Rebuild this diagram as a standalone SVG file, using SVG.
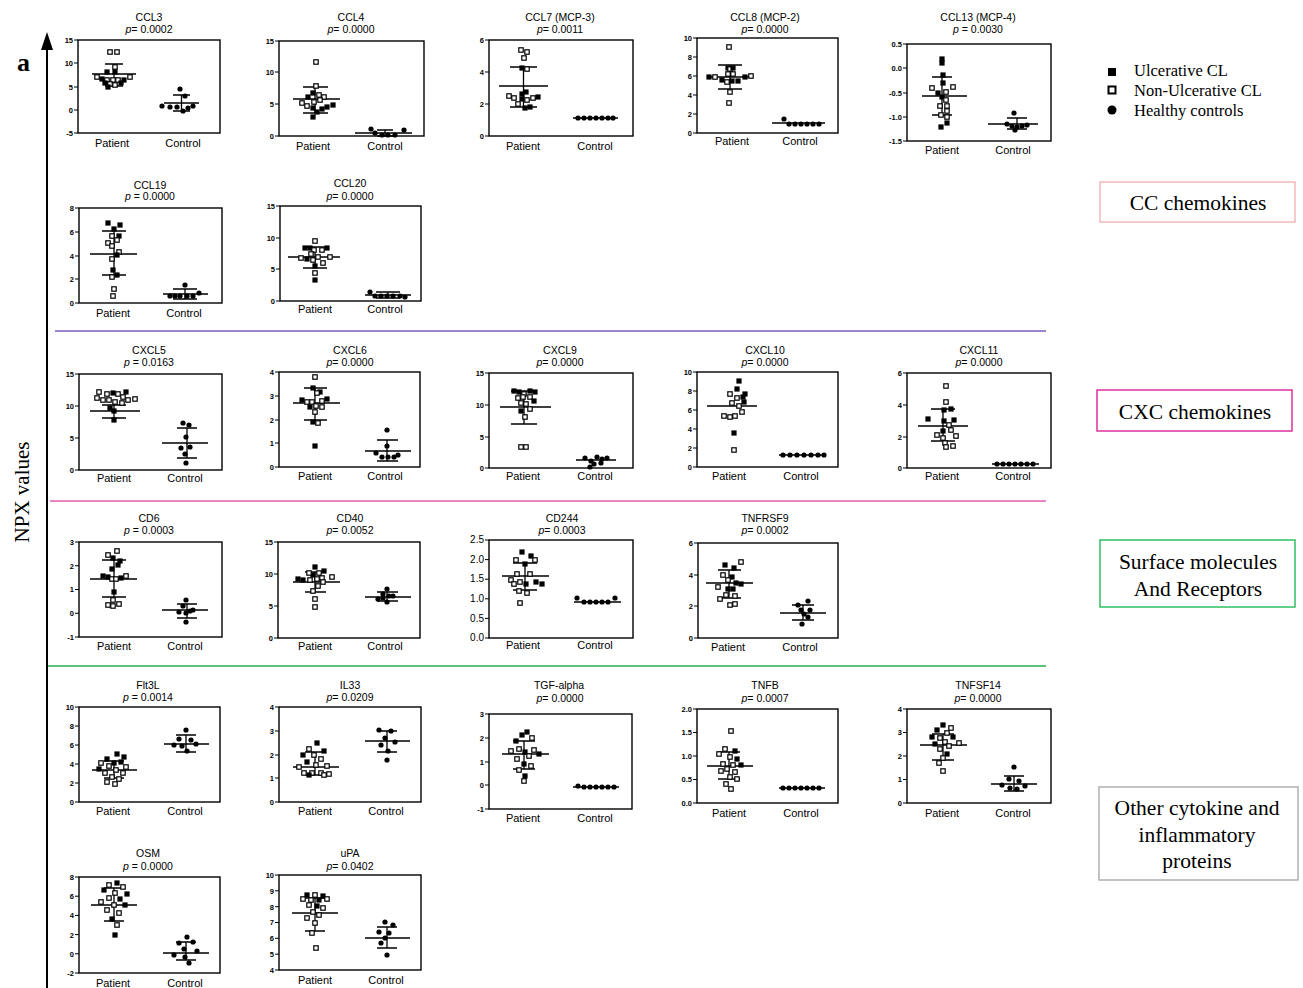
<svg xmlns="http://www.w3.org/2000/svg" xmlns:xlink="http://www.w3.org/1999/xlink" width="1303" height="988" viewBox="0 0 1303 988">
<style>
.bx{fill:none;stroke:#000;stroke-width:1.4}
.eb{fill:none;stroke:#000;stroke-width:1.3}
.tk{fill:none;stroke:#000;stroke-width:1}
.tl{font-family:"Liberation Sans",Arial,sans-serif;font-size:7.5px;font-weight:bold;text-anchor:end}
.tt{font-family:"Liberation Sans",Arial,sans-serif;font-size:10.5px;text-anchor:middle}
.xl{font-family:"Liberation Sans",Arial,sans-serif;font-size:11px;text-anchor:middle}
.sf{font-family:"Liberation Serif","Times New Roman",serif;fill:#000}
.it{font-style:italic}
</style>
<defs>
<rect id="s" x="-2.6" y="-2.6" width="5.2" height="5.2" fill="#000"/>
<rect id="o" x="-2.2" y="-2.2" width="4.4" height="4.4" fill="#fff" stroke="#000" stroke-width="1.2"/>
<circle id="c" r="2.6" fill="#000"/>
</defs>
<rect width="1303" height="988" fill="#fff"/>

<g id="axis">
<line x1="47" y1="988" x2="47" y2="46" stroke="#000" stroke-width="2"/>
<polygon points="41,50 47,32 53,50" fill="#000"/>
<text class="sf" x="17" y="71" font-size="26" font-weight="bold">a</text>
<text class="sf" transform="translate(29,492) rotate(-90)" font-size="21" text-anchor="middle">NPX values</text>
</g>

<g id="separators">
<line x1="55" y1="331" x2="1046" y2="331" stroke="#7a5cb8" stroke-width="1.6"/>
<line x1="50" y1="501" x2="1046" y2="501" stroke="#e05cb0" stroke-width="1.6"/>
<line x1="48" y1="666" x2="1046" y2="666" stroke="#22b04a" stroke-width="1.6"/>
</g>

<g id="legend">
<rect x="1108" y="68" width="8" height="8" fill="#000"/>
<rect x="1108.5" y="86.5" width="7" height="7" fill="#fff" stroke="#000" stroke-width="2"/>
<circle cx="1112" cy="110" r="4.5" fill="#000"/>
<text class="sf" x="1134" y="76" font-size="16.5">Ulcerative CL</text>
<text class="sf" x="1134" y="96" font-size="16.5">Non-Ulcerative CL</text>
<text class="sf" x="1134" y="116" font-size="16.5">Healthy controls</text>
</g>

<g id="cat-cc"><rect x="1100" y="182" width="195" height="40" fill="none" stroke="#f2b8b8" stroke-width="1.5"/><text class="sf" x="1198" y="210" font-size="21.5" text-anchor="middle">CC chemokines</text></g>
<g id="cat-cxc"><rect x="1097" y="390" width="195" height="41" fill="none" stroke="#e0309a" stroke-width="1.5"/><text class="sf" x="1195" y="419" font-size="21.5" text-anchor="middle">CXC chemokines</text></g>
<g id="cat-surface"><rect x="1100" y="540" width="195" height="67" fill="none" stroke="#2ec060" stroke-width="1.5"/><text class="sf" x="1198" y="569" font-size="21.5" text-anchor="middle">Surface molecules</text><text class="sf" x="1198" y="596" font-size="21.5" text-anchor="middle">And Receptors</text></g>
<g id="cat-other"><rect x="1099" y="787" width="199" height="93" fill="none" stroke="#b0b0b0" stroke-width="1.5"/><text class="sf" x="1197" y="815" font-size="21.5" text-anchor="middle">Other cytokine and</text><text class="sf" x="1197" y="842" font-size="21.5" text-anchor="middle">inflammatory</text><text class="sf" x="1197" y="868" font-size="21.5" text-anchor="middle">proteins</text></g>

<!-- CCL3 -->
<g id="p-ccl3" transform="translate(78,40)">
<text class="tt" x="71" y="-19">CCL3</text><text class="tt" x="71" y="-7"><tspan class="it">p</tspan>= 0.0002</text>
<rect class="bx" width="142" height="93"/>
<path class="tk" d="M-4 0H0M-4 23H0M-4 47H0M-4 70H0M-4 93H0"/>
<text class="tl" x="-5" y="3">15</text><text class="tl" x="-5" y="26">10</text><text class="tl" x="-5" y="50">5</text><text class="tl" x="-5" y="73">0</text><text class="tl" x="-5" y="96">-5</text>
<text class="xl" x="34" y="107">Patient</text><text class="xl" x="105" y="107">Control</text>
<path class="eb" d="M14 34H58M27 24H45M27 46H45M36 24V46M86 63H121M95 55H112M95 71H112M103.5 55V71"/>
<use href="#o" x="32" y="12"/><use href="#o" x="39" y="12"/><use href="#o" x="37" y="27"/><use href="#s" x="29" y="32"/><use href="#s" x="37" y="32"/><use href="#o" x="19" y="37"/><use href="#s" x="24" y="39"/><use href="#o" x="29" y="40"/><use href="#o" x="35" y="40"/><use href="#o" x="40" y="40"/><use href="#s" x="46" y="40"/><use href="#o" x="52" y="37"/><use href="#o" x="32" y="44"/><use href="#o" x="37" y="45"/><use href="#s" x="43" y="43"/><use href="#s" x="27" y="43"/><use href="#s" x="30" y="47"/>
<use href="#c" x="102" y="49"/><use href="#c" x="107" y="56"/><use href="#c" x="84" y="66"/><use href="#c" x="99" y="67"/><use href="#c" x="110" y="68"/><use href="#c" x="115" y="66"/><use href="#c" x="105" y="71"/><use href="#c" x="92" y="67"/>
</g>

<!-- CCL4 -->
<g id="p-ccl4" transform="translate(279,41)">
<text class="tt" x="72" y="-20">CCL4</text><text class="tt" x="72" y="-8"><tspan class="it">p</tspan>= 0.0000</text>
<rect class="bx" width="145" height="95"/>
<path class="tk" d="M-4 0H0M-4 31H0M-4 63H0M-4 95H0"/>
<text class="tl" x="-5" y="3">15</text><text class="tl" x="-5" y="34">10</text><text class="tl" x="-5" y="66">5</text><text class="tl" x="-5" y="98">0</text>
<text class="xl" x="34" y="109">Patient</text><text class="xl" x="106" y="109">Control</text>
<path class="eb" d="M14 58H61M24 46H49M24 72H49M36 46V72M76 92H133M98 89H114M98 95H114M106 89V95"/>
<use href="#o" x="37" y="21"/><use href="#o" x="37" y="45"/><use href="#o" x="40" y="54"/><use href="#o" x="45" y="56"/><use href="#s" x="29" y="56"/><use href="#s" x="34" y="52"/><use href="#o" x="23" y="62"/><use href="#o" x="28" y="65"/><use href="#o" x="35" y="61"/><use href="#o" x="41" y="59"/><use href="#s" x="34" y="67"/><use href="#s" x="38" y="71"/><use href="#s" x="43" y="68"/><use href="#s" x="48" y="66"/><use href="#s" x="54" y="64"/><use href="#s" x="34" y="76"/>
<use href="#c" x="92" y="88"/><use href="#c" x="96" y="92"/><use href="#c" x="103" y="94"/><use href="#c" x="109" y="94"/><use href="#c" x="116" y="94"/><use href="#c" x="125" y="89"/>
</g>

<!-- CCL7 -->
<g id="p-ccl7" transform="translate(489,40)">
<text class="tt" x="71" y="-19">CCL7 (MCP-3)</text><text class="tt" x="71" y="-7"><tspan class="it">p</tspan>= 0.0011</text>
<rect class="bx" width="144" height="96"/>
<path class="tk" d="M-4 0H0M-4 32H0M-4 64H0M-4 96H0"/>
<text class="tl" x="-5" y="3">6</text><text class="tl" x="-5" y="35">4</text><text class="tl" x="-5" y="67">2</text><text class="tl" x="-5" y="99">0</text>
<text class="xl" x="34" y="110">Patient</text><text class="xl" x="106" y="110">Control</text>
<path class="eb" d="M10 46H59M21 27H48M21 67H48M34.5 27V67M84 78H129"/>
<use href="#o" x="32" y="10"/><use href="#o" x="38" y="12"/><use href="#o" x="35" y="18"/><use href="#s" x="33" y="28"/><use href="#o" x="38" y="29"/><use href="#s" x="37" y="52"/><use href="#s" x="33" y="54"/><use href="#o" x="20" y="56"/><use href="#o" x="25" y="58"/><use href="#s" x="33" y="59"/><use href="#o" x="38" y="60"/><use href="#o" x="44" y="58"/><use href="#s" x="49" y="57"/><use href="#o" x="29" y="64"/><use href="#s" x="36" y="68"/><use href="#s" x="41" y="67"/>
<use href="#c" x="89" y="78"/><use href="#c" x="95" y="78"/><use href="#c" x="101" y="78"/><use href="#c" x="107" y="78"/><use href="#c" x="113" y="78"/><use href="#c" x="119" y="78"/><use href="#c" x="124" y="78"/>
</g>

<!-- CCL8 -->
<g id="p-ccl8" transform="translate(697,38)">
<text class="tt" x="68" y="-17">CCL8 (MCP-2)</text><text class="tt" x="68" y="-5"><tspan class="it">p</tspan>= 0.0000</text>
<rect class="bx" width="141" height="95"/>
<path class="tk" d="M-4 0H0M-4 19H0M-4 38H0M-4 57H0M-4 76H0M-4 95H0"/>
<text class="tl" x="-5" y="3">10</text><text class="tl" x="-5" y="22">8</text><text class="tl" x="-5" y="41">6</text><text class="tl" x="-5" y="60">4</text><text class="tl" x="-5" y="79">2</text><text class="tl" x="-5" y="98">0</text>
<text class="xl" x="35" y="107">Patient</text><text class="xl" x="103" y="107">Control</text>
<path class="eb" d="M10 39H56M21 27H45M21 51H45M33 27V51M75 85H128"/>
<use href="#o" x="32" y="9"/><use href="#s" x="31" y="30"/><use href="#o" x="33" y="31"/><use href="#s" x="36" y="30"/><use href="#o" x="31" y="36"/><use href="#o" x="36" y="36"/><use href="#s" x="12" y="39"/><use href="#o" x="18" y="39"/><use href="#s" x="48" y="39"/><use href="#o" x="54" y="38"/><use href="#s" x="25" y="42"/><use href="#o" x="30" y="44"/><use href="#s" x="35" y="43"/><use href="#s" x="41" y="43"/><use href="#o" x="33" y="54"/><use href="#o" x="32" y="65"/>
<use href="#c" x="87" y="81"/><use href="#c" x="92" y="86"/><use href="#c" x="98" y="86"/><use href="#c" x="104" y="86"/><use href="#c" x="110" y="86"/><use href="#c" x="116" y="86"/><use href="#c" x="122" y="86"/>
</g>

<!-- CCL13 -->
<g id="p-ccl13" transform="translate(907,44)">
<text class="tt" x="71" y="-23">CCL13 (MCP-4)</text><text class="tt" x="71" y="-11"><tspan class="it">p</tspan> = 0.0030</text>
<rect class="bx" width="144" height="97"/>
<path class="tk" d="M-4 0H0M-4 24H0M-4 49H0M-4 73H0M-4 97H0"/>
<text class="tl" x="-5" y="3">0.5</text><text class="tl" x="-5" y="27">0.0</text><text class="tl" x="-5" y="52">-0.5</text><text class="tl" x="-5" y="76">-1.0</text><text class="tl" x="-5" y="100">-1.5</text>
<text class="xl" x="35" y="110">Patient</text><text class="xl" x="106" y="110">Control</text>
<path class="eb" d="M15 52H60M25 33H45M25 71H45M35 33V71M81 80H131M100 74H120M100 85H120M110 74V85"/>
<use href="#s" x="35" y="15"/><use href="#s" x="35" y="19"/><use href="#s" x="36" y="31"/><use href="#s" x="36" y="39"/><use href="#o" x="25" y="44"/><use href="#s" x="31" y="49"/><use href="#o" x="39" y="48"/><use href="#o" x="46" y="43"/><use href="#s" x="35" y="53"/><use href="#o" x="39" y="56"/><use href="#o" x="33" y="62"/><use href="#o" x="40" y="62"/><use href="#o" x="40" y="67"/><use href="#o" x="34" y="71"/><use href="#o" x="40" y="73"/><use href="#s" x="40" y="79"/><use href="#s" x="34" y="83"/>
<use href="#c" x="107" y="69"/><use href="#c" x="100" y="80"/><use href="#c" x="105" y="82"/><use href="#c" x="110" y="83"/><use href="#c" x="115" y="82"/><use href="#c" x="120" y="81"/><use href="#c" x="108" y="86"/>
</g>

<!-- CCL19 -->
<g id="p-ccl19" transform="translate(79,208)">
<text class="tt" x="71" y="-19">CCL19</text><text class="tt" x="71" y="-8"><tspan class="it">p</tspan> = 0.0000</text>
<rect class="bx" width="143" height="95"/>
<path class="tk" d="M-4 0H0M-4 24H0M-4 48H0M-4 71H0M-4 95H0"/>
<text class="tl" x="-5" y="3">8</text><text class="tl" x="-5" y="27">6</text><text class="tl" x="-5" y="51">4</text><text class="tl" x="-5" y="74">2</text><text class="tl" x="-5" y="98">0</text>
<text class="xl" x="34" y="109">Patient</text><text class="xl" x="105" y="109">Control</text>
<path class="eb" d="M11 46H58M23 23H47M23 67H47M35 23V67M84 86H129M94 81H118M94 91H118M106 81V91"/>
<use href="#s" x="29" y="15"/><use href="#s" x="35" y="21"/><use href="#s" x="41" y="17"/><use href="#o" x="33" y="28"/><use href="#s" x="40" y="28"/><use href="#o" x="38" y="32"/><use href="#o" x="29" y="35"/><use href="#o" x="33" y="38"/><use href="#o" x="40" y="44"/><use href="#s" x="38" y="47"/><use href="#o" x="33" y="51"/><use href="#s" x="34" y="62"/><use href="#s" x="38" y="67"/><use href="#o" x="33" y="69"/><use href="#o" x="35" y="81"/><use href="#o" x="34" y="88"/>
<use href="#c" x="106" y="77"/><use href="#c" x="91" y="88"/><use href="#c" x="96" y="88"/><use href="#c" x="101" y="88"/><use href="#c" x="108" y="88"/><use href="#c" x="114" y="88"/><use href="#c" x="120" y="85"/>
</g>

<!-- CCL20 -->
<g id="p-ccl20" transform="translate(280,206)">
<text class="tt" x="70" y="-19">CCL20</text><text class="tt" x="70" y="-6"><tspan class="it">p</tspan>= 0.0000</text>
<rect class="bx" width="141" height="95"/>
<path class="tk" d="M-4 0H0M-4 32H0M-4 63H0M-4 95H0"/>
<text class="tl" x="-5" y="3">15</text><text class="tl" x="-5" y="35">10</text><text class="tl" x="-5" y="66">5</text><text class="tl" x="-5" y="98">0</text>
<text class="xl" x="35" y="107">Patient</text><text class="xl" x="105" y="107">Control</text>
<path class="eb" d="M8 51H60M23 41H47M23 62H47M35 41V62M85 89H131M96 86H120M96 92H120M108 86V92"/>
<use href="#o" x="35" y="35"/><use href="#s" x="25" y="42"/><use href="#s" x="30" y="42"/><use href="#o" x="34" y="44"/><use href="#o" x="42" y="44"/><use href="#s" x="47" y="42"/><use href="#o" x="31" y="48"/><use href="#o" x="21" y="52"/><use href="#s" x="27" y="53"/><use href="#o" x="33" y="54"/><use href="#o" x="38" y="51"/><use href="#o" x="43" y="57"/><use href="#o" x="50" y="51"/><use href="#s" x="35" y="60"/><use href="#o" x="35" y="67"/><use href="#s" x="35" y="74"/>
<use href="#c" x="90" y="86"/><use href="#c" x="95" y="90"/><use href="#c" x="101" y="90"/><use href="#c" x="107" y="90"/><use href="#c" x="113" y="90"/><use href="#c" x="120" y="90"/><use href="#c" x="125" y="91"/>
</g>

<!-- CXCL5 -->
<g id="p-cxcl5" transform="translate(79,374)">
<text class="tt" x="70" y="-20">CXCL5</text><text class="tt" x="70" y="-8"><tspan class="it">p</tspan> = 0.0163</text>
<rect class="bx" width="143" height="96"/>
<path class="tk" d="M-4 0H0M-4 32H0M-4 64H0M-4 96H0"/>
<text class="tl" x="-5" y="3">15</text><text class="tl" x="-5" y="35">10</text><text class="tl" x="-5" y="67">5</text><text class="tl" x="-5" y="99">0</text>
<text class="xl" x="35" y="108">Patient</text><text class="xl" x="106" y="108">Control</text>
<path class="eb" d="M11 37H61M23 31H47M23 44H47M35 31V44M83 69H129M98 54H118M98 84H118M108 54V84"/>
<use href="#o" x="20" y="18"/><use href="#o" x="28" y="20"/><use href="#s" x="34" y="19"/><use href="#o" x="39" y="20"/><use href="#o" x="44" y="23"/><use href="#s" x="47" y="18"/><use href="#o" x="18" y="24"/><use href="#o" x="24" y="26"/><use href="#o" x="30" y="26"/><use href="#o" x="36" y="28"/><use href="#o" x="43" y="29"/><use href="#o" x="49" y="26"/><use href="#o" x="56" y="25"/><use href="#s" x="31" y="34"/><use href="#s" x="35" y="37"/><use href="#s" x="35" y="46"/>
<use href="#c" x="104" y="49"/><use href="#c" x="110" y="51"/><use href="#c" x="107" y="63"/><use href="#c" x="111" y="73"/><use href="#c" x="102" y="74"/><use href="#c" x="106" y="80"/><use href="#c" x="107" y="89"/>
</g>

<!-- CXCL6 -->
<g id="p-cxcl6" transform="translate(279,372)">
<text class="tt" x="71" y="-18">CXCL6</text><text class="tt" x="71" y="-6"><tspan class="it">p</tspan>= 0.0000</text>
<rect class="bx" width="141" height="95"/>
<path class="tk" d="M-4 0H0M-4 24H0M-4 48H0M-4 71H0M-4 95H0"/>
<text class="tl" x="-5" y="3">4</text><text class="tl" x="-5" y="27">3</text><text class="tl" x="-5" y="51">2</text><text class="tl" x="-5" y="74">1</text><text class="tl" x="-5" y="98">0</text>
<text class="xl" x="36" y="108">Patient</text><text class="xl" x="106" y="108">Control</text>
<path class="eb" d="M14 31H61M25 16H48M25 48H48M36 16V48M86 79H132M98 68H119M98 89H119M108 68V89"/>
<use href="#o" x="36" y="5"/><use href="#s" x="34" y="16"/><use href="#s" x="41" y="20"/><use href="#o" x="38" y="21"/><use href="#s" x="23" y="28"/><use href="#o" x="28" y="30"/><use href="#o" x="33" y="30"/><use href="#o" x="43" y="29"/><use href="#s" x="48" y="27"/><use href="#s" x="31" y="35"/><use href="#o" x="37" y="34"/><use href="#o" x="43" y="35"/><use href="#o" x="36" y="40"/><use href="#s" x="34" y="50"/><use href="#o" x="39" y="51"/><use href="#s" x="36" y="74"/>
<use href="#c" x="108" y="58"/><use href="#c" x="108" y="74"/><use href="#c" x="97" y="81"/><use href="#c" x="103" y="85"/><use href="#c" x="109" y="85"/><use href="#c" x="115" y="85"/><use href="#c" x="119" y="83"/>
</g>

<!-- CXCL9 -->
<g id="p-cxcl9" transform="translate(489,373)">
<text class="tt" x="71" y="-19">CXCL9</text><text class="tt" x="71" y="-7"><tspan class="it">p</tspan>= 0.0000</text>
<rect class="bx" width="144" height="95"/>
<path class="tk" d="M-4 0H0M-4 32H0M-4 64H0M-4 95H0"/>
<text class="tl" x="-5" y="3">15</text><text class="tl" x="-5" y="35">10</text><text class="tl" x="-5" y="67">5</text><text class="tl" x="-5" y="98">0</text>
<text class="xl" x="34" y="107">Patient</text><text class="xl" x="106" y="107">Control</text>
<path class="eb" d="M11 34H62M22 18H48M22 51H48M35 18V51M87 87H127"/>
<use href="#s" x="25" y="18"/><use href="#s" x="30" y="19"/><use href="#o" x="35" y="21"/><use href="#s" x="41" y="18"/><use href="#s" x="46" y="19"/><use href="#o" x="29" y="25"/><use href="#o" x="34" y="24"/><use href="#o" x="41" y="24"/><use href="#s" x="45" y="28"/><use href="#o" x="32" y="30"/><use href="#o" x="37" y="31"/><use href="#s" x="32" y="38"/><use href="#o" x="41" y="36"/><use href="#o" x="36" y="44"/><use href="#o" x="32" y="74"/><use href="#o" x="37" y="74"/>
<use href="#c" x="96" y="85"/><use href="#c" x="102" y="88"/><use href="#c" x="108" y="84"/><use href="#c" x="113" y="86"/><use href="#c" x="118" y="85"/><use href="#c" x="105" y="91"/><use href="#c" x="112" y="90"/><use href="#c" x="101" y="94"/>
</g>

<!-- CXCL10 -->
<g id="p-cxcl10" transform="translate(697,372)">
<text class="tt" x="68" y="-18">CXCL10</text><text class="tt" x="68" y="-6"><tspan class="it">p</tspan>= 0.0000</text>
<rect class="bx" width="141" height="95"/>
<path class="tk" d="M-4 0H0M-4 19H0M-4 38H0M-4 57H0M-4 76H0M-4 95H0"/>
<text class="tl" x="-5" y="3">10</text><text class="tl" x="-5" y="22">8</text><text class="tl" x="-5" y="41">6</text><text class="tl" x="-5" y="60">4</text><text class="tl" x="-5" y="79">2</text><text class="tl" x="-5" y="98">0</text>
<text class="xl" x="32" y="108">Patient</text><text class="xl" x="104" y="108">Control</text>
<path class="eb" d="M10 34H60M82 83H128"/>
<use href="#s" x="42" y="9"/><use href="#s" x="40" y="17"/><use href="#o" x="33" y="22"/><use href="#s" x="48" y="22"/><use href="#o" x="40" y="26"/><use href="#s" x="46" y="25"/><use href="#o" x="35" y="31"/><use href="#o" x="42" y="34"/><use href="#s" x="47" y="30"/><use href="#o" x="27" y="44"/><use href="#o" x="33" y="45"/><use href="#o" x="38" y="44"/><use href="#o" x="45" y="40"/><use href="#s" x="37" y="61"/><use href="#o" x="37" y="78"/>
<use href="#c" x="86" y="83"/><use href="#c" x="93" y="83"/><use href="#c" x="100" y="83"/><use href="#c" x="107" y="83"/><use href="#c" x="114" y="83"/><use href="#c" x="121" y="83"/><use href="#c" x="127" y="83"/>
</g>

<!-- CXCL11 -->
<g id="p-cxcl11" transform="translate(907,373)">
<text class="tt" x="72" y="-19">CXCL11</text><text class="tt" x="72" y="-7"><tspan class="it">p</tspan>= 0.0000</text>
<rect class="bx" width="144" height="95"/>
<path class="tk" d="M-4 0H0M-4 32H0M-4 64H0M-4 95H0"/>
<text class="tl" x="-5" y="3">6</text><text class="tl" x="-5" y="35">4</text><text class="tl" x="-5" y="67">2</text><text class="tl" x="-5" y="98">0</text>
<text class="xl" x="35" y="107">Patient</text><text class="xl" x="106" y="107">Control</text>
<path class="eb" d="M11 53H61M24 36H48M24 68H48M36 36V68M85 91H132"/>
<use href="#o" x="39" y="13"/><use href="#o" x="39" y="29"/><use href="#s" x="37" y="37"/><use href="#s" x="44" y="36"/><use href="#s" x="21" y="46"/><use href="#s" x="37" y="48"/><use href="#s" x="47" y="47"/><use href="#o" x="42" y="52"/><use href="#s" x="36" y="58"/><use href="#o" x="44" y="57"/><use href="#o" x="30" y="62"/><use href="#o" x="36" y="65"/><use href="#o" x="49" y="63"/><use href="#o" x="38" y="70"/><use href="#o" x="46" y="73"/><use href="#o" x="39" y="74"/>
<use href="#c" x="90" y="91"/><use href="#c" x="96" y="91"/><use href="#c" x="102" y="91"/><use href="#c" x="108" y="91"/><use href="#c" x="114" y="91"/><use href="#c" x="120" y="91"/><use href="#c" x="126" y="91"/>
</g>

<!-- CD6 -->
<g id="p-cd6" transform="translate(79,542)">
<text class="tt" x="70" y="-20">CD6</text><text class="tt" x="70" y="-8"><tspan class="it">p</tspan> = 0.0003</text>
<rect class="bx" width="143" height="95"/>
<path class="tk" d="M-4 0H0M-4 23.75H0M-4 47.5H0M-4 71.25H0M-4 95H0"/>
<text class="tl" x="-5" y="3">3</text><text class="tl" x="-5" y="27">2</text><text class="tl" x="-5" y="50">1</text><text class="tl" x="-5" y="74">0</text><text class="tl" x="-5" y="98">-1</text>
<text class="xl" x="35" y="108">Patient</text><text class="xl" x="106" y="108">Control</text>
<path class="eb" d="M11 37H58M23 18H47M23 55H47M35 18V55M83 68H129M98 62H118M98 76H118M108 62V76"/>
<use href="#o" x="38" y="9"/><use href="#o" x="29" y="13"/><use href="#s" x="34" y="16"/><use href="#s" x="41" y="19"/><use href="#s" x="39" y="23"/><use href="#s" x="33" y="27"/><use href="#s" x="24" y="34"/><use href="#s" x="29" y="35"/><use href="#o" x="33" y="37"/><use href="#o" x="37" y="37"/><use href="#s" x="42" y="36"/><use href="#o" x="47" y="34"/><use href="#s" x="35" y="50"/><use href="#o" x="34" y="58"/><use href="#o" x="29" y="63"/><use href="#o" x="34" y="64"/><use href="#o" x="40" y="62"/>
<use href="#c" x="107" y="58"/><use href="#c" x="104" y="64"/><use href="#c" x="100" y="70"/><use href="#c" x="111" y="69"/><use href="#c" x="114" y="68"/><use href="#c" x="107" y="71"/><use href="#c" x="107" y="80"/>
</g>

<!-- CD40 -->
<g id="p-cd40" transform="translate(278,542)">
<text class="tt" x="72" y="-20">CD40</text><text class="tt" x="72" y="-8"><tspan class="it">p</tspan>= 0.0052</text>
<rect class="bx" width="142" height="96"/>
<path class="tk" d="M-4 0H0M-4 32H0M-4 64H0M-4 96H0"/>
<text class="tl" x="-5" y="3">15</text><text class="tl" x="-5" y="35">10</text><text class="tl" x="-5" y="67">5</text><text class="tl" x="-5" y="99">0</text>
<text class="xl" x="37" y="108">Patient</text><text class="xl" x="107" y="108">Control</text>
<path class="eb" d="M15 40H62M27 30H48M27 50H48M37 30V50M87 55H133M99 50H120M99 59H120M109 50V59"/>
<use href="#s" x="37" y="25"/><use href="#s" x="46" y="29"/><use href="#o" x="41" y="31"/><use href="#s" x="35" y="33"/><use href="#o" x="31" y="31"/><use href="#s" x="20" y="37"/><use href="#s" x="25" y="38"/><use href="#o" x="32" y="38"/><use href="#o" x="39" y="37"/><use href="#o" x="44" y="36"/><use href="#o" x="54" y="35"/><use href="#o" x="45" y="40"/><use href="#o" x="40" y="44"/><use href="#o" x="35" y="49"/><use href="#o" x="37" y="57"/><use href="#o" x="37" y="65"/>
<use href="#c" x="109" y="47"/><use href="#c" x="100" y="57"/><use href="#c" x="105" y="56"/><use href="#c" x="111" y="54"/><use href="#c" x="115" y="54"/><use href="#c" x="109" y="60"/><use href="#c" x="105" y="52"/>
</g>

<!-- CD244 -->
<g id="p-cd244" transform="translate(489,540)">
<text class="tt" x="73" y="-18">CD244</text><text class="tt" x="73" y="-6"><tspan class="it">p</tspan>= 0.0003</text>
<rect class="bx" width="144" height="98"/>
<path class="tk" d="M-4 0H0M-4 19.6H0M-4 39.2H0M-4 58.8H0M-4 78.4H0M-4 98H0"/>
<text class="tl" x="-5" y="3" style="font-size:10px;font-weight:normal">2.5</text><text class="tl" x="-5" y="23" style="font-size:10px;font-weight:normal">2.0</text><text class="tl" x="-5" y="42" style="font-size:10px;font-weight:normal">1.5</text><text class="tl" x="-5" y="62" style="font-size:10px;font-weight:normal">1.0</text><text class="tl" x="-5" y="82" style="font-size:10px;font-weight:normal">0.5</text><text class="tl" x="-5" y="101" style="font-size:10px;font-weight:normal">0.0</text>
<text class="xl" x="34" y="109">Patient</text><text class="xl" x="106" y="109">Control</text>
<path class="eb" d="M13 36H60M24 23H48M24 50H48M36 23V50M85 62H132"/>
<use href="#s" x="33" y="12"/><use href="#s" x="42" y="16"/><use href="#o" x="27" y="20"/><use href="#o" x="46" y="20"/><use href="#s" x="36" y="24"/><use href="#o" x="28" y="34"/><use href="#o" x="41" y="34"/><use href="#o" x="22" y="40"/><use href="#o" x="31" y="42"/><use href="#s" x="47" y="42"/><use href="#s" x="53" y="44"/><use href="#s" x="37" y="44"/><use href="#o" x="25" y="44"/><use href="#o" x="30" y="51"/><use href="#o" x="38" y="53"/><use href="#o" x="31" y="63"/>
<use href="#c" x="88" y="58"/><use href="#c" x="95" y="62"/><use href="#c" x="101" y="62"/><use href="#c" x="107" y="62"/><use href="#c" x="113" y="62"/><use href="#c" x="119" y="62"/><use href="#c" x="126" y="58"/>
</g>

<!-- TNFRSF9 -->
<g id="p-tnfrsf9" transform="translate(698,543)">
<text class="tt" x="67" y="-21">TNFRSF9</text><text class="tt" x="67" y="-9"><tspan class="it">p</tspan>= 0.0002</text>
<rect class="bx" width="140" height="95"/>
<path class="tk" d="M-4 0H0M-4 32H0M-4 63H0M-4 95H0"/>
<text class="tl" x="-5" y="3">6</text><text class="tl" x="-5" y="35">4</text><text class="tl" x="-5" y="66">2</text><text class="tl" x="-5" y="98">0</text>
<text class="xl" x="30" y="108">Patient</text><text class="xl" x="102" y="108">Control</text>
<path class="eb" d="M8 40H55M20 27H43M20 55H43M31 27V55M82 70H128M94 62H116M94 77H116M105 62V77"/>
<use href="#s" x="27" y="22"/><use href="#s" x="36" y="25"/><use href="#o" x="43" y="19"/><use href="#o" x="25" y="32"/><use href="#s" x="34" y="34"/><use href="#o" x="30" y="37"/><use href="#s" x="38" y="40"/><use href="#s" x="43" y="41"/><use href="#o" x="20" y="44"/><use href="#s" x="30" y="46"/><use href="#s" x="35" y="46"/><use href="#o" x="28" y="52"/><use href="#o" x="37" y="53"/><use href="#o" x="22" y="56"/><use href="#o" x="32" y="62"/><use href="#o" x="37" y="61"/>
<use href="#c" x="110" y="58"/><use href="#c" x="100" y="62"/><use href="#c" x="103" y="67"/><use href="#c" x="112" y="67"/><use href="#c" x="106" y="71"/><use href="#c" x="110" y="74"/><use href="#c" x="104" y="81"/>
</g>

<!-- Flt3L -->
<g id="p-flt3l" transform="translate(79,707)">
<text class="tt" x="69" y="-18">Flt3L</text><text class="tt" x="69" y="-6"><tspan class="it">p</tspan> = 0.0014</text>
<rect class="bx" width="141" height="95"/>
<path class="tk" d="M-4 0H0M-4 19H0M-4 38H0M-4 57H0M-4 76H0M-4 95H0"/>
<text class="tl" x="-5" y="3">10</text><text class="tl" x="-5" y="22">8</text><text class="tl" x="-5" y="41">6</text><text class="tl" x="-5" y="60">4</text><text class="tl" x="-5" y="79">2</text><text class="tl" x="-5" y="98">0</text>
<text class="xl" x="34" y="108">Patient</text><text class="xl" x="106" y="108">Control</text>
<path class="eb" d="M13 63H58M25 54H45M25 71H45M35 54V71M85 37H130M97 28H117M97 45H117M107 28V45"/>
<use href="#s" x="38" y="47"/><use href="#s" x="45" y="50"/><use href="#s" x="28" y="52"/><use href="#o" x="22" y="56"/><use href="#s" x="35" y="56"/><use href="#s" x="42" y="55"/><use href="#o" x="30" y="59"/><use href="#o" x="47" y="60"/><use href="#s" x="20" y="62"/><use href="#o" x="37" y="63"/><use href="#o" x="26" y="66"/><use href="#o" x="44" y="66"/><use href="#o" x="33" y="70"/><use href="#o" x="40" y="72"/><use href="#o" x="28" y="75"/><use href="#o" x="36" y="77"/>
<use href="#c" x="107" y="23"/><use href="#c" x="100" y="32"/><use href="#c" x="112" y="33"/><use href="#c" x="95" y="38"/><use href="#c" x="103" y="39"/><use href="#c" x="117" y="37"/><use href="#c" x="108" y="44"/>
</g>

<!-- IL33 -->
<g id="p-il33" transform="translate(279,707)">
<text class="tt" x="71" y="-18">IL33</text><text class="tt" x="71" y="-6"><tspan class="it">p</tspan>= 0.0209</text>
<rect class="bx" width="142" height="95"/>
<path class="tk" d="M-4 0H0M-4 24H0M-4 48H0M-4 71H0M-4 95H0"/>
<text class="tl" x="-5" y="3">4</text><text class="tl" x="-5" y="27">3</text><text class="tl" x="-5" y="51">2</text><text class="tl" x="-5" y="74">1</text><text class="tl" x="-5" y="98">0</text>
<text class="xl" x="36" y="108">Patient</text><text class="xl" x="107" y="108">Control</text>
<path class="eb" d="M14 60H60M26 45H46M26 68H46M36 45V68M86 34H131M98 24H118M98 45H118M108 24V45"/>
<use href="#s" x="38" y="36"/><use href="#o" x="30" y="42"/><use href="#s" x="45" y="44"/><use href="#s" x="24" y="48"/><use href="#o" x="35" y="48"/><use href="#o" x="42" y="52"/><use href="#s" x="28" y="55"/><use href="#o" x="20" y="60"/><use href="#o" x="37" y="58"/><use href="#o" x="48" y="59"/><use href="#o" x="25" y="66"/><use href="#o" x="33" y="66"/><use href="#o" x="42" y="66"/><use href="#o" x="50" y="67"/><use href="#s" x="30" y="68"/><use href="#o" x="45" y="68"/>
<use href="#c" x="100" y="23"/><use href="#c" x="112" y="24"/><use href="#c" x="106" y="31"/><use href="#c" x="116" y="35"/><use href="#c" x="102" y="38"/><use href="#c" x="109" y="44"/><use href="#c" x="108" y="53"/>
</g>

<!-- TGF-alpha -->
<g id="p-tgfa" transform="translate(489,714)">
<text class="tt" x="70" y="-25">TGF-alpha</text><text class="tt" x="71" y="-12"><tspan class="it">p</tspan>= 0.0000</text>
<rect class="bx" width="143" height="95"/>
<path class="tk" d="M-4 0H0M-4 24H0M-4 48H0M-4 71H0M-4 95H0"/>
<text class="tl" x="-5" y="3">3</text><text class="tl" x="-5" y="27">2</text><text class="tl" x="-5" y="51">1</text><text class="tl" x="-5" y="74">0</text><text class="tl" x="-5" y="98">-1</text>
<text class="xl" x="34" y="108">Patient</text><text class="xl" x="106" y="108">Control</text>
<path class="eb" d="M13 40H60M24 27H46M24 55H46M35 27V55M84 73H130"/>
<use href="#s" x="38" y="18"/><use href="#s" x="33" y="21"/><use href="#o" x="43" y="24"/><use href="#s" x="27" y="27"/><use href="#o" x="22" y="37"/><use href="#o" x="30" y="35"/><use href="#s" x="36" y="38"/><use href="#o" x="45" y="36"/><use href="#o" x="40" y="42"/><use href="#s" x="50" y="40"/><use href="#o" x="28" y="45"/><use href="#s" x="35" y="50"/><use href="#o" x="42" y="52"/><use href="#o" x="30" y="56"/><use href="#s" x="36" y="62"/><use href="#o" x="35" y="67"/>
<use href="#c" x="89" y="72"/><use href="#c" x="95" y="73"/><use href="#c" x="101" y="73"/><use href="#c" x="107" y="73"/><use href="#c" x="113" y="73"/><use href="#c" x="119" y="73"/><use href="#c" x="125" y="73"/>
</g>

<!-- TNFB -->
<g id="p-tnfb" transform="translate(697,709)">
<text class="tt" x="68" y="-20">TNFB</text><text class="tt" x="68" y="-7"><tspan class="it">p</tspan>= 0.0007</text>
<rect class="bx" width="141" height="94"/>
<path class="tk" d="M-4 0H0M-4 23.5H0M-4 47H0M-4 70.5H0M-4 94H0"/>
<text class="tl" x="-5" y="3">2.0</text><text class="tl" x="-5" y="26">1.5</text><text class="tl" x="-5" y="50">1.0</text><text class="tl" x="-5" y="73">0.5</text><text class="tl" x="-5" y="97">0.0</text>
<text class="xl" x="32" y="108">Patient</text><text class="xl" x="104" y="108">Control</text>
<path class="eb" d="M10 57H56M21 43H43M21 70H43M32 43V70M82 79H128"/>
<use href="#o" x="34" y="22"/><use href="#o" x="28" y="40"/><use href="#s" x="38" y="42"/><use href="#o" x="22" y="45"/><use href="#o" x="33" y="48"/><use href="#s" x="40" y="50"/><use href="#o" x="26" y="55"/><use href="#o" x="36" y="56"/><use href="#s" x="44" y="56"/><use href="#o" x="30" y="60"/><use href="#o" x="38" y="63"/><use href="#o" x="24" y="62"/><use href="#o" x="33" y="68"/><use href="#o" x="40" y="70"/><use href="#o" x="29" y="75"/><use href="#o" x="34" y="80"/>
<use href="#c" x="86" y="79"/><use href="#c" x="92" y="79"/><use href="#c" x="98" y="79"/><use href="#c" x="104" y="79"/><use href="#c" x="110" y="79"/><use href="#c" x="116" y="79"/><use href="#c" x="122" y="79"/>
</g>

<!-- TNFSF14 -->
<g id="p-tnfsf14" transform="translate(907,709)">
<text class="tt" x="71" y="-20">TNFSF14</text><text class="tt" x="71" y="-7"><tspan class="it">p</tspan>= 0.0000</text>
<rect class="bx" width="144" height="94"/>
<path class="tk" d="M-4 0H0M-4 23.5H0M-4 47H0M-4 70.5H0M-4 94H0"/>
<text class="tl" x="-5" y="3">4</text><text class="tl" x="-5" y="26">3</text><text class="tl" x="-5" y="50">2</text><text class="tl" x="-5" y="73">1</text><text class="tl" x="-5" y="97">0</text>
<text class="xl" x="35" y="108">Patient</text><text class="xl" x="106" y="108">Control</text>
<path class="eb" d="M13 36H60M25 25H47M25 51H47M36 25V51M84 75H130M97 67H117M97 82H117M107 67V82"/>
<use href="#s" x="36" y="16"/><use href="#o" x="44" y="19"/><use href="#s" x="30" y="21"/><use href="#o" x="40" y="24"/><use href="#s" x="25" y="28"/><use href="#o" x="33" y="29"/><use href="#s" x="46" y="28"/><use href="#o" x="38" y="33"/><use href="#s" x="28" y="35"/><use href="#o" x="42" y="37"/><use href="#o" x="52" y="34"/><use href="#o" x="33" y="40"/><use href="#s" x="40" y="45"/><use href="#o" x="36" y="49"/><use href="#o" x="32" y="54"/><use href="#o" x="36" y="62"/>
<use href="#c" x="107" y="58"/><use href="#c" x="102" y="70"/><use href="#c" x="112" y="72"/><use href="#c" x="95" y="76"/><use href="#c" x="103" y="79"/><use href="#c" x="110" y="80"/><use href="#c" x="118" y="77"/>
</g>

<!-- OSM -->
<g id="p-osm" transform="translate(79,877)">
<text class="tt" x="69" y="-20">OSM</text><text class="tt" x="69" y="-7"><tspan class="it">p</tspan> = 0.0000</text>
<rect class="bx" width="141" height="96"/>
<path class="tk" d="M-4 0H0M-4 19.2H0M-4 38.4H0M-4 57.6H0M-4 76.8H0M-4 96H0"/>
<text class="tl" x="-5" y="3">8</text><text class="tl" x="-5" y="22">6</text><text class="tl" x="-5" y="41">4</text><text class="tl" x="-5" y="61">2</text><text class="tl" x="-5" y="80">0</text><text class="tl" x="-5" y="99">-2</text>
<text class="xl" x="34" y="110">Patient</text><text class="xl" x="106" y="110">Control</text>
<path class="eb" d="M12 28H58M25 11H45M25 44H45M35 11V44M84 76H130M97 65H117M97 83H117M107 65V83"/>
<use href="#s" x="38" y="6"/><use href="#o" x="30" y="8"/><use href="#o" x="44" y="10"/><use href="#s" x="25" y="13"/><use href="#o" x="36" y="16"/><use href="#s" x="48" y="17"/><use href="#o" x="30" y="21"/><use href="#s" x="41" y="22"/><use href="#o" x="22" y="25"/><use href="#o" x="35" y="28"/><use href="#s" x="46" y="28"/><use href="#o" x="28" y="33"/><use href="#o" x="40" y="36"/><use href="#s" x="33" y="42"/><use href="#o" x="38" y="48"/><use href="#s" x="36" y="58"/>
<use href="#c" x="108" y="60"/><use href="#c" x="100" y="66"/><use href="#c" x="114" y="65"/><use href="#c" x="105" y="72"/><use href="#c" x="118" y="74"/><use href="#c" x="95" y="78"/><use href="#c" x="106" y="80"/><use href="#c" x="110" y="86"/>
</g>

<!-- uPA -->
<g id="p-upa" transform="translate(279,875)">
<text class="tt" x="71" y="-18">uPA</text><text class="tt" x="71" y="-5"><tspan class="it">p</tspan>= 0.0402</text>
<rect class="bx" width="142" height="95"/>
<path class="tk" d="M-4 0H0M-4 15.8H0M-4 31.7H0M-4 47.5H0M-4 63.3H0M-4 79.2H0M-4 95H0"/>
<text class="tl" x="-5" y="3">10</text><text class="tl" x="-5" y="19">9</text><text class="tl" x="-5" y="35">8</text><text class="tl" x="-5" y="50">7</text><text class="tl" x="-5" y="66">6</text><text class="tl" x="-5" y="82">5</text><text class="tl" x="-5" y="98">4</text>
<text class="xl" x="36" y="109">Patient</text><text class="xl" x="107" y="109">Control</text>
<path class="eb" d="M13 38H59M26 23H46M26 56H46M36 23V56M86 63H131M98 52H118M98 73H118M108 52V73"/>
<use href="#s" x="28" y="20"/><use href="#o" x="36" y="20"/><use href="#s" x="44" y="21"/><use href="#o" x="24" y="24"/><use href="#o" x="32" y="25"/><use href="#s" x="40" y="25"/><use href="#o" x="48" y="24"/><use href="#o" x="30" y="30"/><use href="#s" x="38" y="31"/><use href="#o" x="44" y="33"/><use href="#o" x="34" y="37"/><use href="#o" x="40" y="40"/><use href="#o" x="28" y="43"/><use href="#o" x="36" y="48"/><use href="#o" x="33" y="58"/><use href="#o" x="37" y="73"/>
<use href="#c" x="106" y="47"/><use href="#c" x="114" y="50"/><use href="#c" x="100" y="57"/><use href="#c" x="110" y="58"/><use href="#c" x="106" y="63"/><use href="#c" x="102" y="68"/><use href="#c" x="108" y="80"/>
</g>
</svg>
